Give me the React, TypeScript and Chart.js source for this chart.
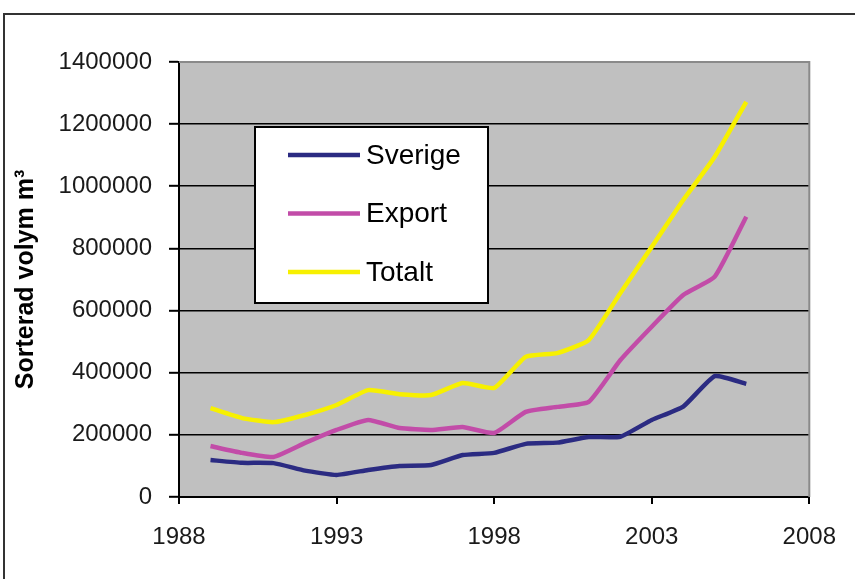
import { useEffect, useRef } from 'react';
import { Chart, registerables } from 'chart.js';

Chart.register(...registerables);

const years = [1989, 1990, 1991, 1992, 1993, 1994, 1995, 1996, 1997, 1998, 1999, 2000, 2001, 2002, 2003, 2004, 2005, 2006];
const sverige = [119000, 110000, 109000, 85000, 71000, 87000, 100000, 103000, 135000, 142000, 171000, 175000, 193000, 194000, 248000, 291000, 389000, 364000];
const exportVol = [164000, 142000, 129000, 174000, 216000, 248000, 222000, 216000, 225000, 206000, 274000, 290000, 306000, 440000, 548000, 650000, 709000, 902000];
const totalt = [286000, 254000, 241000, 264000, 296000, 344000, 331000, 328000, 367000, 351000, 451000, 463000, 505000, 656000, 805000, 956000, 1095000, 1272000];

const seriesLabels = ['Sverige', 'Export', 'Totalt'];
const seriesColors = ['#2b2b82', '#c24ca8', '#f7f000'];
const xMin = 1988;
const xMax = 2008;
const xStep = 5;
const yMin = 0;
const yMax = 1400000;
const yStep = 200000;
const yTitle = 'Sorterad volym m³';

const FONT = '"Liberation Sans", Arial, sans-serif';

const framePlugin = {
  id: 'frame',
  beforeDraw(chart: any) {
    const { ctx, chartArea } = chart;
    ctx.save();
    ctx.fillStyle = '#ffffff';
    ctx.fillRect(0, 0, chart.width, chart.height);
    ctx.strokeStyle = '#333333';
    ctx.lineWidth = 2;
    ctx.beginPath();
    ctx.moveTo(4, chart.height);
    ctx.lineTo(4, 14);
    ctx.lineTo(chart.width, 14);
    ctx.stroke();
    ctx.fillStyle = '#c0c0c0';
    ctx.fillRect(chartArea.left, chartArea.top, chartArea.right - chartArea.left, chartArea.bottom - chartArea.top);
    ctx.restore();
  },
  beforeDatasetsDraw(chart: any) {
    const { ctx, chartArea } = chart;
    ctx.save();
    ctx.strokeStyle = '#8a8a8a';
    ctx.lineWidth = 2;
    ctx.beginPath();
    ctx.moveTo(chartArea.left, chartArea.top);
    ctx.lineTo(chartArea.right, chartArea.top);
    ctx.lineTo(chartArea.right, chartArea.bottom);
    ctx.stroke();
    ctx.restore();
  },
};

const boxLegendPlugin = {
  id: 'boxLegend',
  afterDraw(chart: any) {
    const ctx = chart.ctx;
    ctx.save();
    const x0 = 255, y0 = 127, w = 233, h = 176;
    ctx.fillStyle = '#ffffff';
    ctx.fillRect(x0, y0, w, h);
    ctx.lineWidth = 2;
    ctx.strokeStyle = '#000000';
    ctx.strokeRect(x0, y0, w, h);
    chart.data.datasets.forEach((ds: any, i: number) => {
      const y = 155 + i * 58.5;
      ctx.strokeStyle = ds.borderColor;
      ctx.lineWidth = 4.5;
      ctx.beginPath();
      ctx.moveTo(288, y);
      ctx.lineTo(360, y);
      ctx.stroke();
      ctx.fillStyle = '#000000';
      ctx.font = `28px ${FONT}`;
      ctx.textBaseline = 'middle';
      ctx.textAlign = 'left';
      ctx.fillText(ds.label, 366, y + 1);
    });
    ctx.restore();
  },
};

export default function App() {
  const canvasRef = useRef<HTMLCanvasElement | null>(null);

  useEffect(() => {
    document.body.style.margin = '0';
    const canvas = canvasRef.current;
    if (!canvas) return;
    const seriesData = [sverige, exportVol, totalt];
    const chart = new Chart(canvas, {
      type: 'line',
      data: {
        datasets: seriesData.map((vals, i) => ({
          label: seriesLabels[i],
          data: years.map((yr, j) => ({ x: yr, y: vals[j] })),
          borderColor: seriesColors[i],
          backgroundColor: seriesColors[i],
          borderWidth: 4.5,
          pointRadius: 0,
          tension: 0.15,
          fill: false,
        })),
      },
      options: {
        animation: false,
        responsive: true,
        maintainAspectRatio: false,
        layout: { padding: { top: 62, right: 30, left: 0, bottom: 0 } },
        plugins: {
          legend: { display: false },
          tooltip: { enabled: false },
        },
        scales: {
          x: {
            type: 'linear',
            min: xMin,
            max: xMax,
            afterFit: (scale: any) => { scale.height = 82; },
            ticks: {
              stepSize: xStep,
              padding: 19,
              color: '#1a1a1a',
              font: { family: FONT, size: 24 },
              callback: (v: any) => String(v),
            },
            grid: {
              drawOnChartArea: false,
              drawTicks: true,
              tickLength: 7,
              tickColor: '#000000',
              tickWidth: 2,
              lineWidth: 2,
            },
            border: { color: '#000000', width: 2 },
          },
          y: {
            type: 'linear',
            min: yMin,
            max: yMax,
            afterFit: (scale: any) => { scale.width = 179; },
            ticks: {
              stepSize: yStep,
              padding: 17,
              color: '#1a1a1a',
              font: { family: FONT, size: 24 },
              callback: (v: any) => String(v),
            },
            grid: {
              color: (c: any) => (c.tick && c.tick.value === yMax ? 'rgba(0,0,0,0)' : '#000000'),
              lineWidth: 1.6,
              tickLength: 10,
              tickColor: '#000000',
              tickWidth: 2,
            },
            border: { color: '#000000', width: 2 },
            title: {
              display: true,
              text: yTitle,
              color: '#000000',
              font: { family: FONT, size: 25, weight: 'bold' },
              padding: { top: 11, bottom: 0 },
            },
          },
        },
      },
      plugins: [framePlugin, boxLegendPlugin],
    });
    return () => chart.destroy();
  }, []);

  return (
    <div style={{ position: 'absolute', left: 0, top: 0, width: 855, height: 579 }}>
      <canvas ref={canvasRef} />
    </div>
  );
}
